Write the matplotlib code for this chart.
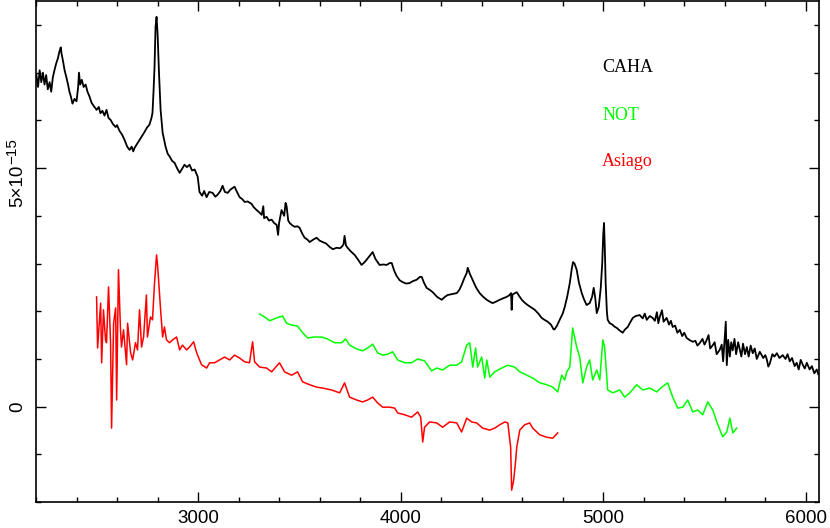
import matplotlib.pyplot as plt
from matplotlib.ticker import MultipleLocator, FixedLocator, NullFormatter

# flux values in units of 1e-15
caha_wl = [2202, 2210, 2218, 2226, 2234, 2242, 2250, 2258, 2267, 2275, 2283, 2291, 2300, 2308, 2316, 2322,
           2326, 2333, 2341, 2350, 2358, 2365, 2372, 2380, 2390, 2400, 2408, 2412, 2418, 2426, 2435, 2445,
           2454, 2464, 2474, 2485, 2499, 2510, 2518, 2528, 2538, 2548, 2558, 2568, 2580, 2593, 2600, 2612,
           2625, 2637, 2650, 2662, 2672, 2680, 2686, 2698, 2711, 2720, 2736, 2748, 2760, 2770, 2775, 2780,
           2785, 2790, 2795, 2800, 2807, 2815, 2825, 2840, 2850, 2860, 2872, 2884, 2896, 2909, 2920, 2933,
           2945, 2958, 2970, 2983, 2998, 3007, 3020, 3030, 3042, 3055, 3072, 3085, 3096, 3110, 3121, 3132,
           3146, 3160, 3180, 3192, 3205, 3218, 3230, 3245, 3264, 3275, 3289, 3300, 3314, 3322, 3326, 3338,
           3350, 3363, 3375, 3388, 3395, 3400, 3412, 3425, 3432, 3437, 3445, 3452, 3465, 3477, 3490, 3501,
           3515, 3526, 3540, 3551, 3568, 3585, 3600, 3615, 3632, 3649, 3665, 3684, 3700, 3709, 3718, 3723,
           3730, 3738, 3755, 3773, 3790, 3807, 3820, 3832, 3845, 3862, 3875, 3896, 3915, 3931, 3946, 3956,
           3968, 3980, 3995, 4010, 4027, 4044, 4060, 4079, 4095, 4104, 4115, 4128, 4143, 4158, 4180, 4203,
           4218, 4232, 4255, 4277, 4290, 4301, 4315, 4326, 4331, 4342, 4355, 4372, 4390, 4408, 4425, 4440,
           4454, 4470, 4489, 4505, 4523, 4535, 4545, 4548, 4552, 4573, 4585, 4598, 4612, 4627, 4645, 4662,
           4680, 4696, 4710, 4726, 4742, 4755, 4760, 4772, 4785, 4800, 4810, 4822, 4835, 4845, 4851, 4858,
           4869, 4880, 4894, 4905, 4918, 4933, 4945, 4953, 4960, 4968, 4978, 4988, 4995, 5000, 5004, 5008,
           5012, 5018, 5022, 5032, 5045, 5055, 5067, 5080, 5096, 5108, 5121, 5135, 5146, 5160, 5180, 5195,
           5205, 5215, 5230, 5244, 5255, 5265, 5272, 5279, 5290, 5298, 5313, 5325, 5334, 5343, 5355, 5366,
           5378, 5390, 5400, 5412, 5425, 5442, 5455, 5465, 5476, 5490, 5500, 5511, 5520, 5528, 5541, 5550,
           5560, 5575, 5585, 5592, 5600, 5605, 5610, 5617, 5625, 5632, 5639, 5648, 5656, 5666, 5674, 5682,
           5690, 5700, 5709, 5718, 5728, 5738, 5748, 5758, 5773, 5790, 5800, 5807, 5815, 5822, 5835, 5845,
           5857, 5870, 5886, 5900, 5910, 5921, 5932, 5945, 5955, 5965, 5975, 5985, 5995, 6005, 6019, 6030,
           6042, 6054, 6062]
caha_flux = [6.95, 6.70, 7.05, 6.80, 7.00, 6.75, 6.95, 6.65, 6.80, 6.60, 6.90, 7.05, 7.20, 7.30, 7.45, 7.53,
             7.40, 7.25, 7.05, 6.90, 6.75, 6.60, 6.50, 6.35, 6.45, 6.40, 6.70, 7.00, 6.75, 6.85, 6.70, 6.75,
             6.60, 6.50, 6.37, 6.30, 6.22, 6.28, 6.15, 6.20, 6.10, 6.22, 6.05, 6.01, 5.92, 5.86, 5.90, 5.78,
             5.70, 5.59, 5.45, 5.38, 5.45, 5.35, 5.42, 5.50, 5.59, 5.65, 5.76, 5.85, 5.91, 6.05, 6.16, 6.60,
             7.12, 7.96, 8.17, 7.83, 7.00, 6.22, 5.74, 5.44, 5.30, 5.24, 5.15, 5.11, 5.00, 4.90, 4.98, 5.07,
             5.02, 5.07, 4.95, 4.97, 4.82, 4.50, 4.42, 4.52, 4.39, 4.50, 4.48, 4.40, 4.44, 4.52, 4.63, 4.50,
             4.48, 4.55, 4.61, 4.50, 4.39, 4.35, 4.29, 4.30, 4.25, 4.18, 4.12, 4.08, 4.02, 4.20, 3.95, 3.98,
             3.90, 3.92, 3.85, 3.81, 3.60, 3.85, 4.12, 4.00, 4.27, 4.20, 3.90, 3.85, 3.80, 3.77, 3.78, 3.75,
             3.62, 3.54, 3.50, 3.45, 3.50, 3.54, 3.48, 3.45, 3.42, 3.35, 3.30, 3.33, 3.32, 3.35, 3.40, 3.58,
             3.38, 3.33, 3.25, 3.18, 3.08, 2.97, 3.02, 3.08, 3.15, 3.24, 3.10, 2.97, 2.98, 2.97, 3.01, 3.01,
             2.85, 2.74, 2.65, 2.61, 2.58, 2.59, 2.63, 2.66, 2.72, 2.72, 2.60, 2.49, 2.45, 2.40, 2.30, 2.24,
             2.30, 2.34, 2.36, 2.38, 2.45, 2.55, 2.70, 2.80, 2.91, 2.78, 2.66, 2.50, 2.38, 2.30, 2.24, 2.20,
             2.17, 2.20, 2.24, 2.27, 2.30, 2.33, 2.38, 2.03, 2.35, 2.40, 2.32, 2.24, 2.18, 2.13, 2.08, 2.03,
             1.95, 1.86, 1.82, 1.78, 1.72, 1.62, 1.62, 1.70, 1.82, 1.95, 2.09, 2.30, 2.59, 2.90, 3.03, 3.00,
             2.87, 2.60, 2.38, 2.25, 2.13, 2.17, 2.30, 2.49, 2.30, 1.96, 2.09, 2.50, 3.00, 3.60, 3.85, 3.30,
             2.59, 2.00, 1.82, 1.75, 1.72, 1.68, 1.65, 1.60, 1.55, 1.62, 1.67, 1.78, 1.86, 1.90, 1.92, 1.85,
             1.95, 1.82, 1.90, 1.86, 1.80, 1.98, 1.75, 1.88, 2.02, 1.78, 1.86, 1.72, 1.80, 1.67, 1.70, 1.55,
             1.61, 1.48, 1.55, 1.44, 1.40, 1.36, 1.38, 1.28, 1.33, 1.42, 1.30, 1.40, 1.50, 1.22, 1.29, 1.35,
             1.10, 1.19, 1.30, 0.95, 1.45, 1.78, 0.87, 1.40, 1.05, 1.35, 1.18, 1.42, 1.10, 1.35, 1.20, 1.05,
             1.32, 1.10, 1.25, 1.05, 1.28, 1.12, 1.22, 1.00, 1.15, 1.02, 1.08, 1.00, 0.84, 0.90, 1.10, 1.05,
             1.12, 1.02, 1.08, 1.00, 1.10, 0.95, 1.02, 0.85, 0.92, 0.78, 0.98, 0.88, 0.80, 0.92, 0.78, 0.85,
             0.70, 0.78, 0.68]

not_wl = [3304, 3328, 3353, 3388, 3417, 3437, 3462, 3491, 3516, 3541, 3575, 3610, 3639, 3674, 3709, 3728,
          3748, 3783, 3812, 3837, 3862, 3886, 3911, 3936, 3960, 3985, 4020, 4054, 4084, 4118, 4153, 4178,
          4207, 4242, 4277, 4301, 4326, 4341, 4356, 4370, 4380, 4400, 4415, 4425, 4440, 4464, 4499, 4529,
          4563, 4588, 4623, 4652, 4687, 4721, 4751, 4775, 4795, 4810, 4820, 4835, 4849, 4869, 4884, 4899,
          4918, 4933, 4948, 4968, 4983, 4998, 5007, 5022, 5047, 5082, 5106, 5131, 5165, 5195, 5230, 5264,
          5289, 5318, 5343, 5368, 5393, 5417, 5442, 5467, 5491, 5516, 5541, 5566, 5590, 5610, 5625, 5640,
          5659]
not_flux = [1.94, 1.88, 1.80, 1.86, 1.90, 1.75, 1.71, 1.69, 1.55, 1.44, 1.46, 1.46, 1.42, 1.34, 1.34, 1.42,
            1.29, 1.21, 1.17, 1.23, 1.31, 1.13, 1.08, 1.10, 1.15, 0.98, 0.92, 0.92, 1.00, 0.96, 0.75, 0.81,
            0.77, 0.87, 0.87, 0.94, 1.29, 1.34, 0.83, 1.23, 0.83, 1.04, 0.60, 0.98, 0.62, 0.73, 0.81, 0.87,
            0.83, 0.73, 0.66, 0.60, 0.50, 0.46, 0.41, 0.31, 0.66, 0.56, 0.73, 0.83, 1.65, 1.25, 1.04, 0.50,
            0.83, 0.98, 0.56, 0.77, 0.56, 1.40, 1.25, 0.35, 0.29, 0.35, 0.20, 0.29, 0.46, 0.35, 0.39, 0.31,
            0.41, 0.50, 0.20, -0.03, -0.01, 0.14, -0.11, -0.07, -0.17, 0.10, -0.07, -0.38, -0.63, -0.53, -0.24, -0.55,
            -0.45]

asiago_wl = [2499, 2504, 2519, 2524, 2533, 2543, 2548, 2558, 2568, 2573, 2583, 2593, 2598, 2607, 2617, 2622,
             2632, 2647, 2652, 2667, 2677, 2691, 2701, 2711, 2721, 2731, 2745, 2750, 2765, 2775, 2785, 2795,
             2800, 2815, 2825, 2834, 2844, 2859, 2874, 2894, 2909, 2923, 2943, 2958, 2978, 2993, 3017, 3042,
             3057, 3081, 3106, 3131, 3156, 3180, 3205, 3230, 3254, 3269, 3279, 3304, 3338, 3363, 3402, 3427,
             3462, 3491, 3516, 3551, 3585, 3615, 3659, 3699, 3723, 3748, 3783, 3812, 3837, 3862, 3886, 3911,
             3946, 3970, 3985, 4020, 4054, 4084, 4099, 4109, 4118, 4143, 4178, 4207, 4242, 4277, 4301, 4326,
             4351, 4375, 4405, 4440, 4464, 4489, 4514, 4529, 4543, 4548, 4558, 4568, 4573, 4588, 4612, 4637,
             4652, 4687, 4721, 4751, 4775]
asiago_flux = [2.30, 1.23, 2.17, 0.92, 2.03, 1.40, 1.34, 2.51, 1.34, -0.45, 1.75, 2.07, 0.14, 2.87, 1.61, 1.25,
               1.61, 0.88, 1.75, 1.13, 0.98, 1.34, 1.19, 2.03, 1.25, 1.46, 2.34, 1.46, 1.88, 1.82, 2.59, 3.18,
               2.97, 2.03, 1.46, 1.67, 1.40, 1.34, 1.40, 1.46, 1.19, 1.29, 1.19, 1.25, 1.36, 1.13, 0.88, 0.81,
               0.92, 0.92, 0.98, 1.04, 0.98, 1.08, 1.02, 0.94, 0.92, 1.36, 0.94, 0.83, 0.81, 0.73, 0.92, 0.73,
               0.66, 0.73, 0.52, 0.46, 0.41, 0.39, 0.35, 0.29, 0.50, 0.20, 0.14, 0.10, 0.14, 0.20, 0.08, -0.01,
               -0.01, -0.03, -0.13, -0.17, -0.22, -0.11, -0.22, -0.74, -0.43, -0.32, -0.34, -0.43, -0.32, -0.34, -0.53, -0.24,
               -0.32, -0.34, -0.45, -0.49, -0.45, -0.38, -0.32, -0.34, -0.85, -1.75, -1.54, -1.12, -0.85, -0.49, -0.38, -0.34,
               -0.45, -0.59, -0.64, -0.66, -0.55]

labels = ["CAHA", "NOT", "Asiago"]
label_y = [7.1, 6.11, 5.13]
colors = ["black", "#00ff00", "#ff0000"]
ytick_vals = [0, 5]
unit = 1e-15

fig = plt.figure(figsize=(8.3, 5.28), dpi=100)
ax = fig.add_axes([0.0434, 0.049, 0.9433, 0.949])

ax.plot(caha_wl, [f * unit for f in caha_flux], color=colors[0], lw=1.3)
ax.plot(not_wl, [f * unit for f in not_flux], color=colors[1], lw=1.1)
ax.plot(asiago_wl, [f * unit for f in asiago_flux], color=colors[2], lw=1.1)

for name, yy, c in zip(labels, label_y, colors):
    ax.text(4995, yy * unit, name, color=c, fontsize=13, family='Liberation Serif', va='center', ha='left')

ax.set_xlim(2200, 6065)
ax.set_ylim(-2.0e-15, 8.5e-15)

ax.xaxis.set_major_locator(MultipleLocator(1000))
ax.xaxis.set_minor_locator(MultipleLocator(200))
ax.yaxis.set_major_locator(FixedLocator([v * unit for v in ytick_vals]))
ax.yaxis.set_minor_locator(MultipleLocator(1e-15))
ax.yaxis.set_major_formatter(NullFormatter())

ax.tick_params(which='both', direction='in', top=True, right=True, width=1.0,
               labelsize=13.5, labelfontfamily='Liberation Sans')
ax.tick_params(which='major', length=7.5)
ax.tick_params(which='minor', length=3.8)
ax.tick_params(axis='x', pad=6)

# y tick labels written by hand, rotated, PGPLOT style (exponent as raised text)
yt = ax.get_yaxis_transform()
ax.text(-0.0235, 0, "0", transform=yt, rotation=90, ha='center', va='center',
        fontsize=13.5, family='Liberation Sans')
ax.text(-0.0235, 4.19e-15, "5×10", transform=yt, rotation=90, ha='center', va='bottom',
        fontsize=13.5, family='Liberation Sans')
ax.text(-0.0305, 5.08e-15, "\u221215", transform=yt, rotation=90, ha='center', va='bottom',
        fontsize=11, family='Liberation Sans')

for s in ax.spines.values():
    s.set_linewidth(1.2)

fig.savefig('out.png', dpi=100)
